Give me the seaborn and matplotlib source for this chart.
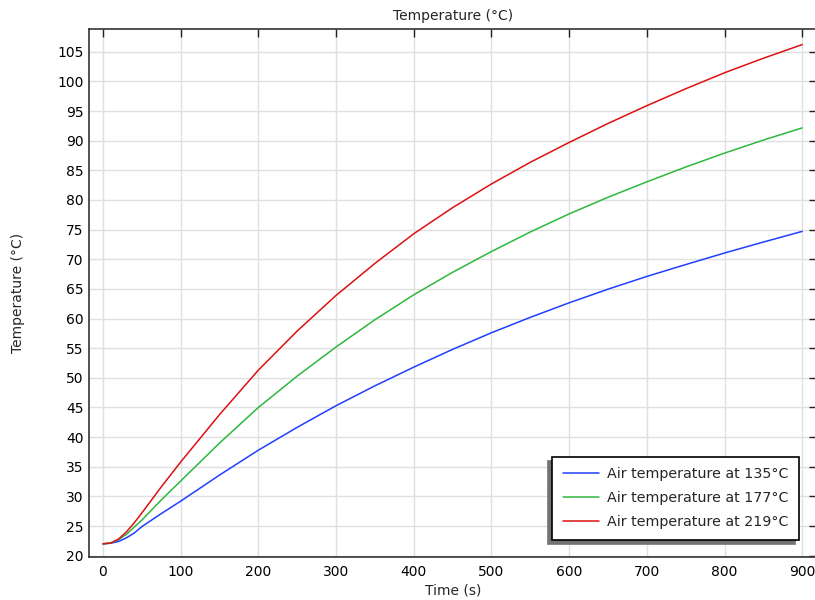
import pandas as pd
import seaborn as sns
import matplotlib.pyplot as plt

# values
time_s = [0, 10, 20, 30, 40, 50, 75, 100, 150, 200, 250, 300, 350, 400, 450,
          500, 550, 600, 650, 700, 750, 800, 850, 900]
temp_135 = [22.0, 22.1, 22.4, 23.0, 23.8, 24.9, 27.1, 29.2, 33.6, 37.8, 41.65,
            45.3, 48.65, 51.8, 54.8, 57.6, 60.2, 62.65, 64.95, 67.1, 69.1, 71.05,
            72.9, 74.7]
temp_177 = [22.0, 22.15, 22.7, 23.6, 24.8, 26.0, 29.4, 32.6, 39.0, 45.0, 50.3,
            55.2, 59.8, 64.0, 67.8, 71.3, 74.6, 77.65, 80.45, 83.05, 85.55, 87.9,
            90.1, 92.15]
temp_219 = [22.0, 22.15, 22.8, 24.0, 25.5, 27.2, 31.6, 35.8, 43.8, 51.3, 57.9,
            63.9, 69.3, 74.3, 78.7, 82.7, 86.35, 89.7, 92.9, 95.9, 98.75, 101.45,
            103.9, 106.2]
labels = ['Air temperature at 135°C', 'Air temperature at 177°C', 'Air temperature at 219°C']
colors = ['#1f3fff', '#2db83d', '#dd1111']

frames = []
for lab, vals in zip(labels, [temp_135, temp_177, temp_219]):
    frames.append(pd.DataFrame({'Time': time_s, 'Temp': vals, 'Series': lab}))
data = pd.concat(frames, ignore_index=True)

sns.set_style('white')
plt.rcParams['font.family'] = ['DejaVu Sans']

fig = plt.figure(figsize=(8.15, 6), dpi=100)
ax = fig.add_axes([89 / 815, 1 - 557 / 600, 728 / 815, (557 - 29.3) / 600])

sns.lineplot(data=data, x='Time', y='Temp', hue='Series', palette=colors,
             linewidth=1.1, ax=ax, legend=False, sort=False)

ax.set_xlim(-18, 919)
ax.set_ylim(19.78, 108.78)
ax.set_xticks(range(0, 901, 100))
ax.set_yticks(range(20, 106, 5))
ax.grid(True, color='#e0e0e0', linewidth=1)
ax.set_axisbelow(True)
ax.tick_params(direction='in', length=6, width=1, color='#222222',
               top=True, right=True, labelsize=10, labelcolor='black', pad=4)
ax.tick_params(axis='x', pad=6)
for s in ax.spines.values():
    s.set_color('#333333')
    s.set_linewidth(1.2)

ax.set_title('Temperature (°C)', fontsize=10, pad=7)
ax.set_xlabel('Time (s)', fontsize=10, labelpad=3)
ax.set_ylabel('Temperature (°C)', fontsize=10, labelpad=23)

handles = [plt.Line2D([], [], color=c, linewidth=1.1) for c in colors]
leg = ax.legend(handles, labels, loc='lower right', bbox_to_anchor=(0.975, 0.032),
                borderaxespad=0, fontsize=10.3, frameon=True, fancybox=False,
                edgecolor='black', framealpha=1, handlelength=2.5,
                handletextpad=0.55, labelspacing=0.7, borderpad=0.75,
                shadow={'ox': -3, 'oy': -3, 'color': '0.45', 'alpha': 1})
leg.get_frame().set_linewidth(1.2)

plt.savefig('out.png', dpi=100)
